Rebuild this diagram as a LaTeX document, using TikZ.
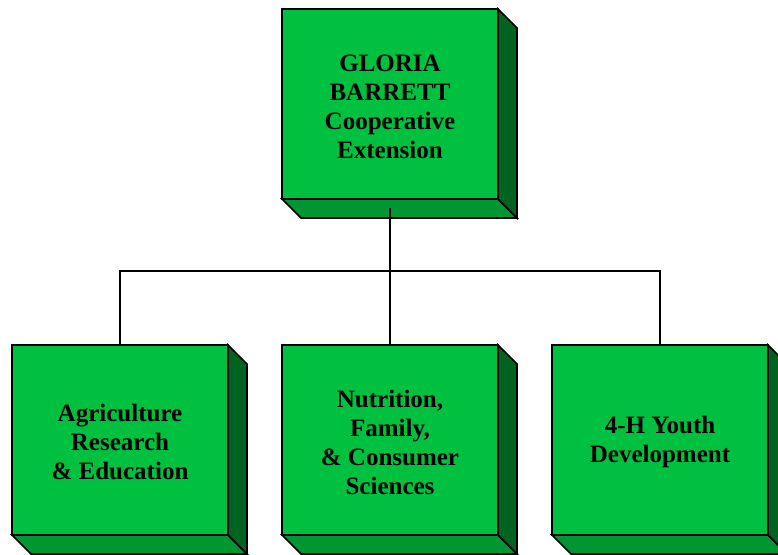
\documentclass[tikz,border=0pt]{standalone}
\usepackage{fontspec}
\setmainfont{Liberation Serif}
\definecolor{frontgreen}{RGB}{0,192,64}
\definecolor{floorgreen}{RGB}{0,150,50}
\definecolor{sidegreen}{RGB}{0,100,32}
\newcommand{\lift}{\rule{0pt}{22pt}}
\begin{document}
\begin{tikzpicture}[x=1pt,y=-1pt,line width=1.6pt,line join=miter,
    unit box/.style={draw,fill=frontgreen,minimum width=216pt,minimum height=190pt,inner sep=0pt,outer sep=0pt,align=center,font=\bfseries\fontsize{25}{29}\selectfont}]
                \useasboundingbox (0,0) rectangle (778,554);
                \node[unit box] (top) at (390,104) {\lift GLORIA\\BARRETT\\Cooperative\\Extension};
                \node[unit box] (agri) at (120,440) {\lift Agriculture\\Research\\\& Education};
                \node[unit box] (nutr) at (390,440) {\lift Nutrition,\\Family,\\\& Consumer\\Sciences};
                \node[unit box] (youth) at (660,440) {\lift 4-H Youth\\Development};

                % depth faces
                \foreach \n in {top,agri,nutr,youth} {
                    \draw[fill=floorgreen] (\n.south west) -- ++(19,19) -- ++(216,0) -- (\n.south east) -- cycle;
                    \draw[fill=sidegreen] (\n.north east) -- ++(19,19) -- ++(0,190) -- (\n.south east) -- cycle;
                }

                \coordinate (bus) at (390,271);
                \draw ([yshift=-9pt]top.south) -- (bus);
                \draw (agri.north) |- (bus) -| (youth.north);
                \draw (nutr.north) -- (bus);
            \end{tikzpicture}
\end{document}
